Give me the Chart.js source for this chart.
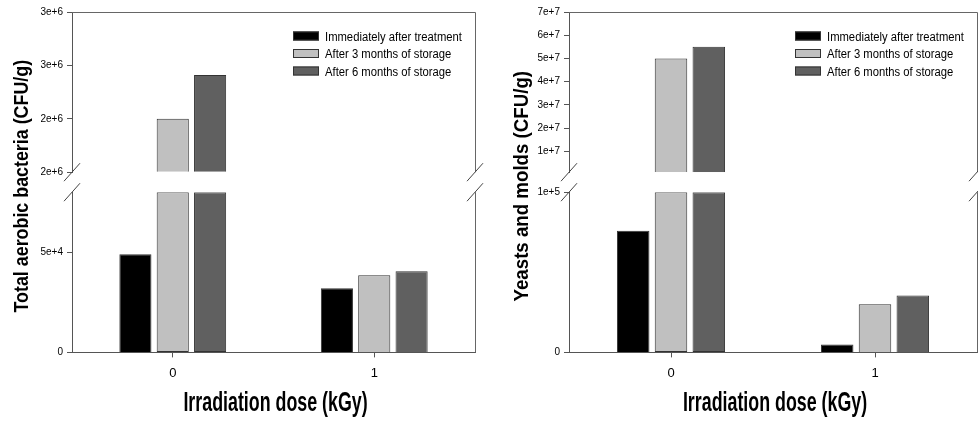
<!DOCTYPE html>
<html>
<head>
<meta charset="utf-8">
<script src="https://cdn.jsdelivr.net/npm/chart.js@4.4.0/dist/chart.umd.min.js"></script>
<style>
  body { margin: 0; background: #fff; }
  .row { display: flex; width: 978px; height: 421px; }
  .panel { position: relative; height: 421px; }
</style>
</head>
<body>
<div class="row">
  <div class="panel" style="width:490px"><canvas id="tabChart"></canvas></div>
  <div class="panel" style="width:488px"><canvas id="ymChart"></canvas></div>
</div>
<script>
const DOSES = ["0", "1"];
const SERIES = ["Immediately after treatment", "After 3 months of storage", "After 6 months of storage"];
const FILLS = ["#000000", "#c0c0c0", "#606060"];
const X_TITLE = "Irradiation dose (kGy)";

// total aerobic bacteria (CFU/g)
const TAB_IMMEDIATE = [49000, 32000];
const TAB_3MONTHS = [2500000, 38500];
const TAB_6MONTHS = [2910000, 40500];

// yeasts and molds (CFU/g)
const YM_IMMEDIATE = [76000, 5000];
const YM_3MONTHS = [50000000, 30000];
const YM_6MONTHS = [55000000, 35500];

// broken y axes: lower / upper range and their ticks
const TAB_LOW = [0, 80000];
const TAB_LOW_TICKS = [0, 50000];
const TAB_LOW_LABELS = ["0", "5e+4"];
const TAB_UP = [2000000, 3500000];
const TAB_UP_TICKS = [2000000, 2500000, 3000000, 3500000];
const TAB_UP_LABELS = ["2e+6", "2e+6", "3e+6", "3e+6"];

const YM_LOW = [0, 100000];
const YM_LOW_TICKS = [0, 100000];
const YM_LOW_LABELS = ["0", "1e+5"];
const YM_UP = [1000000, 70000000];
const YM_UP_TICKS = [10000000, 20000000, 30000000, 40000000, 50000000, 60000000, 70000000];
const YM_UP_LABELS = ["1e+7", "2e+7", "3e+7", "4e+7", "5e+7", "6e+7", "7e+7"];

const FONT = "'Liberation Sans', Arial, sans-serif";
const AXIS_COLOR = "#555";

function yAxis(range, ticks, labels, axisW) {
  return {
    type: "linear",
    position: "left",
    stack: "y",
    stackWeight: 160,
    stacked: false,
    min: range[0],
    max: range[1],
    afterBuildTicks: (s) => { s.ticks = ticks.map((v) => ({ value: v })); },
    afterFit: (s) => { s.width = axisW; },
    ticks: {
      autoSkip: false,
      callback: (v, i) => labels[i],
      font: { family: FONT, size: 10 },
      color: "#000",
      padding: 4,
    },
    grid: { drawOnChartArea: false, tickLength: 5, color: AXIS_COLOR },
    border: { color: AXIS_COLOR },
  };
}

// empty slice of the stack that makes the gap of the broken axis
function gapAxis(axisW) {
  return {
    type: "linear",
    position: "left",
    stack: "y",
    stackWeight: 20,
    min: 0,
    max: 1,
    afterFit: (s) => { s.width = axisW; },
    ticks: { display: false },
    grid: { display: false },
    border: { display: false },
  };
}

function lowerSet(i, values, range) {
  return {
    label: SERIES[i],
    yAxisID: "yLow",
    stack: "s" + i,
    data: values.map((v) => Math.min(v, range[1])),
    backgroundColor: FILLS[i],
    borderColor: "#333",
    borderWidth: 1,
    borderSkipped: (c) => (values[c.dataIndex] > range[1] ? "middle" : "start"),
  };
}

function upperSet(i, values, range) {
  return {
    label: SERIES[i],
    yAxisID: "yUp",
    stack: "s" + i,
    base: range[0],
    data: values.map((v) => (v > range[0] ? v : null)),
    backgroundColor: FILLS[i],
    borderColor: "#333",
    borderWidth: 1,
  };
}

// top/right frame and the "//" break marks
const frame = {
  id: "frame",
  afterDraw(chart) {
    const { ctx, chartArea } = chart;
    const up = chart.scales.yUp;
    const low = chart.scales.yLow;
    ctx.save();
    ctx.strokeStyle = "#666";
    ctx.lineWidth = 1;
    ctx.beginPath();
    ctx.moveTo(chartArea.left, chartArea.top + 0.5);
    ctx.lineTo(chartArea.right + 0.5, chartArea.top + 0.5);
    ctx.lineTo(chartArea.right + 0.5, up.bottom);
    ctx.moveTo(chartArea.right + 0.5, low.top);
    ctx.lineTo(chartArea.right + 0.5, chartArea.bottom);
    ctx.stroke();
    ctx.strokeStyle = "#444";
    ctx.beginPath();
    [chartArea.left, chartArea.right].forEach((x) => {
      [up.bottom, low.top].forEach((y) => {
        ctx.moveTo(x - 8, y + 9);
        ctx.lineTo(x + 8, y - 9);
      });
    });
    ctx.stroke();
    ctx.restore();
  },
};

// squeezed text, like the narrow lettering of the original figure
function squeezed(ctx, text, x, y, squeeze, rotate) {
  ctx.save();
  ctx.translate(x, y);
  if (rotate) ctx.rotate(-Math.PI / 2);
  ctx.scale(squeeze, 1);
  ctx.fillText(text, 0, 0);
  ctx.restore();
}

const insideLegend = {
  id: "insideLegend",
  afterDraw(chart) {
    const { ctx, chartArea } = chart;
    const x = chartArea.right - 182;
    ctx.save();
    ctx.font = "12.5px " + FONT;
    ctx.textBaseline = "alphabetic";
    ctx.textAlign = "left";
    chart.data.datasets.slice(0, SERIES.length).forEach((ds, i) => {
      const y = chartArea.top + 24 + i * 17.5;
      ctx.fillStyle = ds.backgroundColor;
      ctx.fillRect(x, y - 4.5, 26, 9);
      ctx.strokeStyle = "#333";
      ctx.lineWidth = 1;
      ctx.strokeRect(x + 0.5, y - 4, 25, 8);
      ctx.fillStyle = "#000";
      squeezed(ctx, ds.label, x + 32, y + 4.5, 0.9, false);
    });
    ctx.restore();
  },
};

function axisTitles(yTitle, yBase, ySqueeze) {
  return {
    id: "axisTitles",
    afterDraw(chart) {
      const { ctx, chartArea } = chart;
      ctx.save();
      ctx.fillStyle = "#000";
      ctx.textAlign = "center";
      ctx.textBaseline = "alphabetic";
      ctx.font = "bold 27px " + FONT;
      squeezed(ctx, X_TITLE, (chartArea.left + chartArea.right) / 2 + 2, 411, 0.66, false);
      ctx.font = "bold 21px " + FONT;
      squeezed(ctx, yTitle, yBase, (chartArea.top + chartArea.bottom) / 2 + 4, ySqueeze, true);
      ctx.restore();
    },
  };
}

function makeChart(id, sets, low, up, yTitle, axisW, yBase, ySqueeze, padRight) {
  const [lowRange, lowTicks, lowLabels] = low;
  const [upRange, upTicks, upLabels] = up;
  return new Chart(document.getElementById(id), {
    type: "bar",
    data: {
      labels: DOSES,
      datasets: [
        ...sets.map((vals, i) => lowerSet(i, vals, lowRange)),
        ...sets.map((vals, i) => upperSet(i, vals, upRange)),
      ],
    },
    options: {
      responsive: true,
      maintainAspectRatio: false,
      animation: false,
      categoryPercentage: 0.556,
      barPercentage: 0.86,
      layout: { padding: { top: 12, right: padRight, bottom: 32, left: 0 } },
      plugins: { legend: { display: false }, tooltip: { enabled: false } },
      scales: {
        x: {
          grid: { offset: false, drawOnChartArea: false, tickLength: 5, color: AXIS_COLOR },
          border: { color: AXIS_COLOR },
          ticks: { font: { family: FONT, size: 13 }, color: "#000", padding: 8 },
        },
        yLow: yAxis(lowRange, lowTicks, lowLabels, axisW),
        yGap: gapAxis(axisW),
        yUp: yAxis(upRange, upTicks, upLabels, axisW),
      },
    },
    plugins: [frame, insideLegend, axisTitles(yTitle, yBase, ySqueeze)],
  });
}

makeChart(
  "tabChart",
  [TAB_IMMEDIATE, TAB_3MONTHS, TAB_6MONTHS],
  [TAB_LOW, TAB_LOW_TICKS, TAB_LOW_LABELS],
  [TAB_UP, TAB_UP_TICKS, TAB_UP_LABELS],
  "Total aerobic bacteria (CFU/g)",
  72, 27.5, 0.85, 15
);

makeChart(
  "ymChart",
  [YM_IMMEDIATE, YM_3MONTHS, YM_6MONTHS],
  [YM_LOW, YM_LOW_TICKS, YM_LOW_LABELS],
  [YM_UP, YM_UP_TICKS, YM_UP_LABELS],
  "Yeasts and molds (CFU/g)",
  79, 37.5, 0.89, 1
);
</script>
</body>
</html>
